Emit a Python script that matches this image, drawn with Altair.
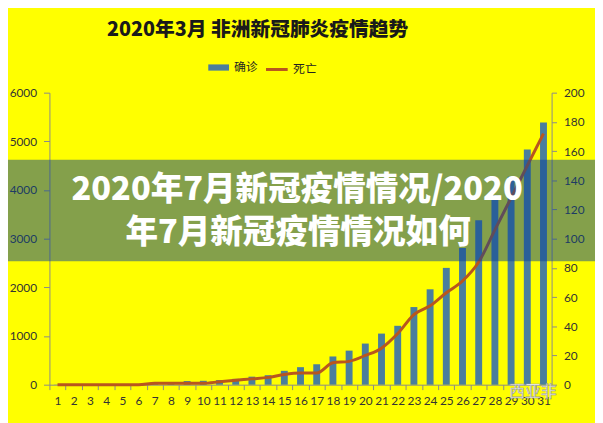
import altair as alt
import pandas as pd

# ---- data ----
days = [1, 2, 3, 4, 5, 6, 7, 8, 9, 10, 11, 12, 13, 14, 15, 16,
        17, 18, 19, 20, 21, 22, 23, 24, 25, 26, 27, 28, 29, 30, 31]
cases = [3, 3, 4, 5, 8, 15, 30, 55, 75, 80, 95, 120, 165, 195, 285, 360,
         420, 580, 700, 845, 1050, 1210, 1595, 1960, 2400, 2810, 3380, 3900, 4270, 4830, 5385]
deaths = [0, 0, 0, 0, 0, 0, 1, 1, 1, 1, 2, 3, 4, 5, 7, 8,
          8, 15, 16, 20, 25, 35, 48, 54, 63, 71, 84, 106, 128, 150, 172]
series_names = ["确诊", "死亡"]
left_ticks = [0, 1000, 2000, 3000, 4000, 5000, 6000]
right_ticks = [0, 20, 40, 60, 80, 100, 120, 140, 160, 180, 200]

chart_title = "2020年3月 非洲新冠肺炎疫情趋势"
overlay_lines = ["2020年7月新冠疫情情况/2020", "年7月新冠疫情情况如何"]
watermark = "西亚非"

BAR = "#4A7E9C"
LINE = "#B8561E"
AXIS = "#8A8A8A"
LABEL = "#333333"
FONT_NUM = "Lato"
FONT_CJK = "Noto Sans CJK SC"

df = pd.DataFrame({
    "day": days,
    "cases": cases,
    "deaths": deaths,
    "s_bar": [series_names[0]] * len(days),
    "s_line": [series_names[1]] * len(days),
})
one = pd.DataFrame({"k": [0]})

W, H = 509, 296
band = W / len(days)

xenc = alt.X(
    "day:O",
    sort=days,
    scale=alt.Scale(paddingInner=0, paddingOuter=0),
    axis=alt.Axis(
        title=None, labelAngle=0, labelOverlap=False,
        tickOffset=-band / 2, labelOffset=band / 2,
        tickSize=5, labelPadding=6, tickColor=AXIS, domainColor=AXIS,
        labelFont=FONT_NUM, labelFontSize=12, labelColor=LABEL, grid=False,
    ),
)

bars = alt.Chart(df).mark_bar(size=7).encode(
    x=xenc,
    y=alt.Y(
        "cases:Q",
        scale=alt.Scale(domain=[0, 6000], nice=False),
        axis=alt.Axis(
            title=None, orient="left", values=left_ticks, grid=False, format="d",
            tickSize=6, labelPadding=7, tickColor=AXIS, domainColor=AXIS,
            labelFont=FONT_NUM, labelFontSize=12, labelColor=LABEL,
        ),
    ),
    color=alt.Color(
        "s_bar:N",
        scale=alt.Scale(domain=[series_names[0]], range=[BAR]),
        legend=alt.Legend(
            title=None, orient="none", legendX=161, legendY=-36, padding=0,
            symbolType="M-1,-0.3H1V0.3H-1Z", symbolSize=441, symbolStrokeWidth=0,
            labelFont=FONT_CJK, labelFontSize=12, labelColor="#222222", labelOffset=5,
        ),
    ),
)

line = alt.Chart(df).mark_line(strokeWidth=3, interpolate="monotone").encode(
    x=alt.X("day:O", sort=days),
    y=alt.Y(
        "deaths:Q",
        scale=alt.Scale(domain=[0, 200], nice=False),
        axis=alt.Axis(
            title=None, orient="right", values=right_ticks, grid=False, format="d",
            tickSize=5, labelPadding=7, tickColor=AXIS, domainColor=AXIS,
            labelFont=FONT_NUM, labelFontSize=12, labelColor=LABEL,
        ),
    ),
    stroke=alt.Stroke(
        "s_line:N",
        scale=alt.Scale(domain=[series_names[1]], range=[LINE]),
        legend=alt.Legend(
            title=None, orient="none", legendX=218, legendY=-36, padding=0,
            symbolType="stroke", symbolSize=484, symbolStrokeWidth=3,
            labelFont=FONT_CJK, labelFontSize=12, labelColor="#222222", labelOffset=4,
        ),
    ),
)

title_txt = alt.Chart(one).mark_text(
    font=FONT_CJK, fontSize=20, fontWeight=900, color="#1a1a1a",
    align="center", baseline="middle",
).encode(x=alt.value(211), y=alt.value(-63), text=alt.value(chart_title))

overlay_band = alt.Chart(one).mark_rect(color="#0A4196", opacity=0.5).encode(
    x=alt.value(-50), x2=alt.value(560), y=alt.value(68), y2=alt.value(171)
)

ov1 = alt.Chart(one).mark_text(
    font=FONT_CJK, fontSize=33, fontWeight=900, color="white",
    align="center", baseline="middle",
).encode(x=alt.value(251), y=alt.value(99), text=alt.value(overlay_lines[0]))

ov2 = alt.Chart(one).mark_text(
    font=FONT_CJK, fontSize=33, fontWeight=900, color="white",
    align="center", baseline="middle",
).encode(x=alt.value(252), y=alt.value(142), text=alt.value(overlay_lines[1]))

wm = alt.Chart(one).mark_text(
    font=FONT_CJK, fontSize=16, color="white", stroke="#9a9a9a", strokeWidth=0.6,
    align="center", baseline="middle",
).encode(x=alt.value(490), y=alt.value(303), text=alt.value(watermark))

chart = (
    alt.layer(bars, line, title_txt, overlay_band, ov1, ov2, wm)
    .resolve_scale(y="independent", color="independent", stroke="independent")
    .properties(
        width=W, height=H,
        autosize=alt.AutoSizeParams(type="none"),
        padding={"left": 42, "top": 83, "right": 44, "bottom": 36},
        background="#FFFF00",
    )
    .configure_view(strokeWidth=0)
)

chart.save("out.html", embed_options={"renderer": "svg", "actions": False})
